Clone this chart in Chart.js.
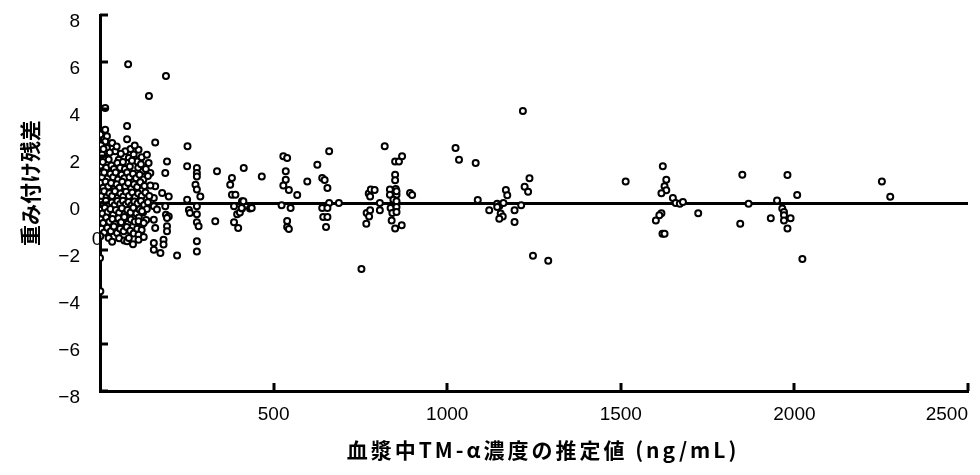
<!DOCTYPE html>
<html><head><meta charset="utf-8">
<script src="https://cdn.jsdelivr.net/npm/chart.js@4/dist/chart.umd.min.js"></script>
<style>html,body{margin:0;padding:0;background:#fff}#wrap{width:980px;height:475px;position:relative}</style>
</head><body><div id="wrap"><canvas id="c" width="980" height="475"></canvas></div>
<script>
const xTickValues = [0, 500, 1000, 1500, 2000, 2500];
const yTickValues = [-8, -6, -4, -2, 0, 2, 4, 6, 8];
const xTitle = '血漿中TM-α濃度の推定値 (ng/mL)';
const yTitle = '重み付け残差';
const strayZeroLabel = { text: '0', x: 0, y: -1.57 };

// dense cluster at low concentrations [concentration, weighted residual]
const clusterPoints = [
  [81,5.9],[190,5.4],[141,4.55],[15,4.04],[78,3.28],[78,2.71],[1,2.92],[15,3.12],[20,2.84],[15,2.62],
  [35,2.55],[1,2.5],[20,2.34],[44,2.2],[73,2.2],[111,2.27],[159,2.57],[6,2.06],[54,1.84],[83,1.91],
  [97,2.06],[102,1.84],[78,1.7],[107,1.77],[121,1.35],[145,1.28],[193,1.77],[188,1.28],[159,0.71],[179,0.43],
  [198,0.28],[155,0.21],
  [3,2.45],[10,2.3],[28,2.15],[48,2.4],[60,2.1],[88,2.3],[100,2.45],[120,1.95],[135,2.05],
  [2,1.6],[8,1.75],[18,1.5],[25,1.85],[33,1.6],[40,1.45],[50,1.7],[58,1.5],[66,1.75],[72,1.45],[86,1.55],[92,1.8],[110,1.5],[118,1.65],[132,1.45],[140,1.7],
  [0,1.25],[6,1.1],[12,1.3],[22,1.05],[30,1.25],[38,1.1],[45,1.3],[52,1.0],[62,1.2],[70,1.05],[78,1.3],[85,1.1],[95,1.25],[104,1.05],[114,1.2],[125,1.0],[138,1.15],
  [2,0.85],[9,0.65],[16,0.9],[24,0.7],[32,0.85],[41,0.6],[48,0.8],[56,0.65],[64,0.9],[73,0.7],[81,0.85],[90,0.62],[98,0.8],[107,0.68],[116,0.88],[128,0.72],[145,0.75],
  [0,0.45],[5,0.3],[12,0.5],[19,0.25],[27,0.42],[35,0.3],[43,0.5],[51,0.22],[59,0.4],[67,0.28],[75,0.48],[83,0.3],[93,0.45],[101,0.25],[110,0.4],[120,0.3],[131,0.45],[142,0.3],
  [3,0.05],[10,-0.05],[17,0.1],[26,-0.08],[34,0.02],[42,-0.1],[50,0.08],[58,-0.04],[66,0.1],[74,-0.06],[82,0.04],[91,-0.1],[99,0.06],[108,-0.02],[118,0.08],[127,-0.08],[138,0.03],
  [1,-0.3],[7,-0.45],[14,-0.2],[22,-0.38],[30,-0.25],[38,-0.5],[46,-0.3],[55,-0.42],[63,-0.22],[71,-0.48],[79,-0.3],[88,-0.4],[96,-0.2],[105,-0.45],[114,-0.28],[124,-0.4],[135,-0.25],
  [2,-0.7],[9,-0.85],[18,-0.62],[27,-0.8],[36,-0.68],[44,-0.9],[53,-0.65],[61,-0.82],[70,-0.6],[80,-0.88],[89,-0.7],[100,-0.8],[112,-0.62],[122,-0.9],[133,-0.72],
  [4,-1.1],[12,-1.25],[21,-1.05],[31,-1.2],[40,-1.0],[49,-1.28],[58,-1.1],[68,-1.2],[77,-1.02],[87,-1.18],[97,-1.3],[107,-1.1],[120,-1.15],
  [1,-1.42],[25,-1.49],[35,-1.65],[55,-1.5],[70,-1.6],[78,-1.63],[83,-1.49],[95,-1.75],[111,-1.35],[111,-1.56],[126,-1.45],
  [155,-0.14],[164,-0.28],[188,-0.14],[190,-0.5],[198,-0.57],[193,-0.64],[155,-0.71],[159,-1.06],[193,-0.99],[193,-1.2],
  [183,-1.56],[183,-1.77],[155,-1.7],[155,-1.99],[174,-2.13],[222,-2.23],[0,-2.34],[1,-3.76],
  [111,-0.78],[126,-0.85],[121,-0.35]
];

// 250 - 900 ng/mL
const midPoints = [
  [252,2.41],[251,1.56],[279,1.49],[279,1.28],[279,1.13],[337,1.35],[414,1.49],[380,1.06],[375,0.78],[380,0.35],
  [390,0.35],[275,0.78],[279,0.57],[289,0.28],[251,0.14],[409,0.07],
  [256,-0.3],[259,-0.43],[279,-0.14],[279,-0.48],[279,-0.82],[284,-0.99],[279,-1.63],[279,-2.06],[332,-0.78],
  [386,-0.14],[395,-0.48],[403,-0.4],[386,-0.82],[398,-1.06],[409,-0.23],[432,-0.23],
  [466,1.13],[528,1.99],[539,1.91],[535,1.35],[535,0.99],[528,0.75],[544,0.55],[568,0.34],[597,0.92],[626,1.63],
  [660,2.2],[640,1.06],[647,0.98],[655,0.64],[660,0],[688,0],[413,0.07],[408,-0.21],[437,-0.21],
  [523,-0.1],[549,-0.21],[539,-0.77],[539,-1.02],[544,-1.11],[640,-0.21],[655,-0.21],[643,-0.6],[655,-0.6],[651,-1.02],
  [753,-2.81],[774,0.4],[780,0.57],[791,0.55],[778,0.28],[806,0],[768,-0.43],[775,-0.57],[778,-0.31],[767,-0.88],
  [806,-0.31],[820,2.41],[850,1.77],[861,1.77],[870,1.99],[850,1.2],[850,0.97],[835,0.57],[852,0.6],[835,0.35],
  [854,0.35],[854,0.5],[845,0.14],[854,0.07],[837,-0.21],[854,-0.17],[842,-0.43],[854,-0.38],[840,-0.74],[869,-0.95],
  [850,-1.09],[893,0.43],[899,0.34]
];

// above 1000 ng/mL
const highPoints = [
  [1024,2.34],[1034,1.84],[1082,1.7],[1088,0.13],[1121,-0.31],[1144,-0.03],[1150,-0.13],[1162,0],[1144,-0.17],[1154,-0.45],
  [1160,-0.57],[1150,-0.67],[1169,0.55],[1173,0.33],[1218,3.91],[1194,-0.31],[1194,-0.81],[1213,-0.1],[1223,0.69],[1233,0.48],
  [1237,1.05],[1247,-2.24],[1291,-2.46],[1514,0.91],[1621,1.56],[1631,0.99],[1626,0.71],[1631,0.54],[1617,0.41],[1650,0.21],
  [1658,0],[1670,-0.03],[1679,0.04],[1617,-0.44],[1611,-0.52],[1601,-0.74],[1620,-1.31],[1626,-1.31],[1723,-0.44],[1850,1.2],
  [1844,-0.88],[1868,-0.03],[1980,1.19],[2008,0.34],[1950,0.11],[1965,-0.23],[1970,-0.38],[1970,-0.52],[1970,-0.74],[1989,-0.65],
  [1932,-0.65],[1980,-1.09],[2023,-2.38],[2252,0.91],[2276,0.27]
];

const allPoints = clusterPoints.concat(midPoints, highPoints).map(p => ({ x: p[0], y: p[1] }));

const tickFont = { family: "'Liberation Sans', Arial, sans-serif", size: 19 };
const titleFontCss = "bold 21px 'Noto Sans CJK JP', sans-serif";

const overlay = {
  id: 'overlay',
  afterDatasetsDraw(chart) {
    const { ctx, scales: { x, y }, chartArea } = chart;
    ctx.save();
    ctx.strokeStyle = '#000';
    ctx.lineWidth = 3;
    yTickValues.forEach(v => {
      const py = Math.round(y.getPixelForValue(v));
      ctx.beginPath(); ctx.moveTo(chartArea.left, py); ctx.lineTo(chartArea.left + 8, py); ctx.stroke();
    });
    xTickValues.forEach(v => {
      if (v === 0) return;
      const px = Math.round(x.getPixelForValue(v));
      ctx.beginPath(); ctx.moveTo(px, chartArea.bottom); ctx.lineTo(px, chartArea.bottom - 8); ctx.stroke();
    });
    ctx.fillStyle = '#000';
    ctx.font = `${tickFont.size}px ${tickFont.family}`;
    ctx.textAlign = 'center';
    ctx.textBaseline = 'middle';
    ctx.fillText(strayZeroLabel.text, x.getPixelForValue(strayZeroLabel.x) - 3, y.getPixelForValue(strayZeroLabel.y));
    // axis titles
    ctx.font = titleFontCss;
    if ('letterSpacing' in ctx) ctx.letterSpacing = '3px';
    ctx.fillText(xTitle, (chartArea.left + chartArea.right) / 2 + 9, 450);
    ctx.translate(30, 183);
    ctx.rotate(-Math.PI / 2);
    if ('letterSpacing' in ctx) ctx.letterSpacing = '0px';
    ctx.fillText(yTitle, 0, 0);
    ctx.restore();
  }
};

new Chart(document.getElementById('c'), {
  type: 'scatter',
  data: {
    datasets: [{
      data: allPoints,
      pointRadius: 3,
      pointHoverRadius: 3,
      pointBorderWidth: 2,
      pointBackgroundColor: '#fff',
      pointBorderColor: '#000'
    }]
  },
  options: {
    responsive: false,
    animation: false,
    events: [],
    layout: { autoPadding: false, padding: { top: 15, right: 12, left: 0, bottom: 0 } },
    plugins: { legend: { display: false }, tooltip: { enabled: false } },
    scales: {
      x: {
        type: 'linear', min: 0, max: 2500,
        afterBuildTicks: s => { s.ticks = xTickValues.map(v => ({ value: v })); },
        afterFit: s => { s.height = 84; s.paddingLeft = 0; s.paddingRight = 0; },
        ticks: {
          color: '#000', font: tickFont, padding: 12, align: 'inner', maxRotation: 0,
          callback: v => (v === 0 ? '' : String(v))
        },
        grid: { display: false, drawTicks: false },
        border: { display: true, color: '#000', width: 3 },
        title: { display: false }
      },
      y: {
        type: 'linear', min: -8, max: 8,
        afterBuildTicks: s => { s.ticks = yTickValues.map(v => ({ value: v })); },
        afterFit: s => { s.width = 100; s.paddingTop = 0; s.paddingBottom = 0; },
        ticks: {
          color: '#000', font: tickFont, padding: 20, labelOffset: 7,
          callback: v => String(v).replace('-', '\u2212')
        },
        grid: {
          drawTicks: false,
          color: c => (c.tick && c.tick.value === 0 ? '#000' : 'rgba(0,0,0,0)'),
          lineWidth: c => (c.tick && c.tick.value === 0 ? 3 : 1)
        },
        border: { display: true, color: '#000', width: 3 },
        title: { display: false }
      }
    }
  },
  plugins: [overlay]
});
</script></body></html>
